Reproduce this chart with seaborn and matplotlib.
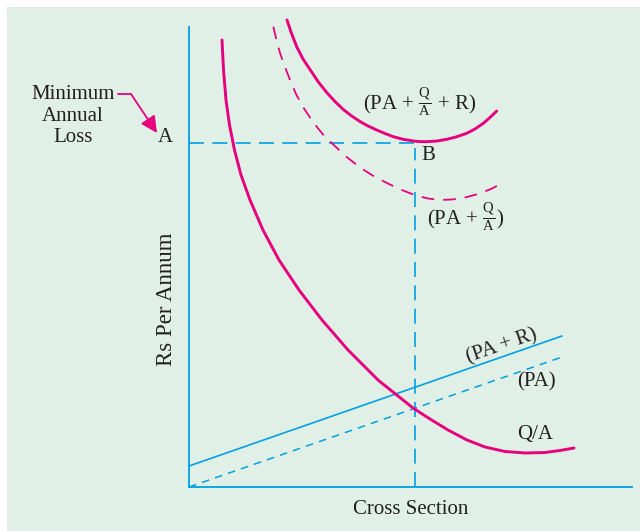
import numpy as np
import pandas as pd
import matplotlib
matplotlib.use("Agg")
import matplotlib.pyplot as plt
from matplotlib.patches import Rectangle
from matplotlib.lines import Line2D
import seaborn as sns

# curve points (x = cross section, y = Rs per annum)
qa_x = [33, 34.5, 37, 40.5, 45.5, 52, 61, 74, 90, 110, 133, 159, 189, 224,
        241, 259, 278, 296, 316, 336, 356, 371, 385]
qa_y = [447, 417, 387, 362, 337, 312, 287, 257, 227, 197, 167, 137, 107, 79,
        68, 57, 47, 40, 35.5, 34, 34.5, 36.5, 39]

total_x = [98, 102, 107.7, 114, 121, 129, 137.7, 146, 154.3, 162, 171, 179, 187.7,
           196, 204.3, 214, 224.3, 231, 237.7, 248, 257.7, 267, 277.7, 286, 294.3,
           301, 307.7]
total_y = [467, 455, 440.3, 428, 417.5, 405.5, 394.5, 385.5, 377.5, 371.5, 365.5,
           361, 357, 353.5, 350.3, 347.7, 346, 345.4, 345.3, 346, 347.7, 350,
           353.7, 358, 363.7, 369.5, 376]

paqa_x = [84.3, 87.5, 91, 96, 101, 107, 114, 121, 127.7, 134, 141, 157.7, 171,
          186, 201, 214, 227, 239, 251, 263, 276, 289, 302, 314]
paqa_y = [460.3, 447, 434, 420, 407, 393, 380, 369.5, 360.3, 352.5, 345.5, 330,
          319.5, 310, 302.5, 296.5, 291.5, 288.5, 287, 287.5, 289.5, 293, 298, 304.3]

par_x = [0, 373]
par_y = [21, 151]
pa_x = [0, 373]
pa_y = [0, 130]

opt_x = 226      # cross section at B
min_loss = 344   # minimum annual loss (A)

pink = "#e6007e"
blue = "#00a0e3"
green_bg = "#e1f0e6"

sns.set_style("white")
plt.rcParams["font.family"] = ["Liberation Serif", "DejaVu Serif"]
plt.rcParams["mathtext.fontset"] = "custom"
plt.rcParams["mathtext.rm"] = "Liberation Serif"
plt.rcParams["mathtext.it"] = "Liberation Serif:italic"

W, H = 640, 531
fig = plt.figure(figsize=(6.4, 5.31), dpi=100, facecolor="white")
fig.patches.append(Rectangle((7 / W, 0), 1, 524 / H, transform=fig.transFigure,
                             facecolor=green_bg, edgecolor="none", zorder=-10))

ax = fig.add_axes([189 / W, 44 / H, 451 / W, 487 / H])
ax.set_facecolor("none")
ax.set_xlim(0, 451)
ax.set_ylim(0, 487)
for s in ["top", "right"]:
    ax.spines[s].set_visible(False)
for s in ["left", "bottom"]:
    ax.spines[s].set_color(blue)
    ax.spines[s].set_linewidth(1.3)
ax.spines["left"].set_bounds(0, 460)
ax.spines["bottom"].set_bounds(0, 443)
ax.set_xticks([])
ax.set_yticks([])


def draw(x, y, color, lw, dash=None):
    sns.lineplot(x=x, y=y, ax=ax, color=color, lw=lw, sort=False,
                 estimator=None, clip_on=False)
    line = ax.lines[-1]
    line.set_solid_joinstyle("round")
    line.set_dash_joinstyle("round")
    if dash is not None:
        line.set_linestyle((0, dash))
    return line


# guide lines for A and B
draw([0, opt_x], [min_loss, min_loss], blue, 1.2, (9, 5))
draw([opt_x, opt_x], [0, min_loss - 5], blue, 1.2, (9, 5))

draw(pa_x, pa_y, blue, 1.1, (5, 4))
draw(par_x, par_y, blue, 1.2)
draw(paqa_x, paqa_y, pink, 1.3, (7, 5))
draw(qa_x, qa_y, pink, 2.1)
draw(total_x, total_y, pink, 2.1)

fs = 15
def ftext(px, py, s, **kw):
    kw.setdefault("fontsize", fs)
    fig.text(px / W, 1 - py / H, s, ha="center", va="center", color="#231f20", **kw)


ftext(73, 116, "Minimum\nAnnual\nLoss", linespacing=1.15, multialignment="center")
ftext(165, 138, "A")
ftext(428, 156, "B")
ftext(420, 102, r"(PA + $\frac{\mathrm{Q}}{\mathrm{A}}$ + R)")
ftext(466, 217, r"(PA + $\frac{\mathrm{Q}}{\mathrm{A}}$)")
ftext(502, 346, "(PA + R)", rotation=19)
ftext(536, 382, "(PA)")
ftext(535, 434, "Q/A")
ftext(167, 299, "Rs Per Annum", rotation=90, fontsize=16.5)
ftext(411, 510, "Cross Section")

# pointer from the label to A
fig.add_artist(Line2D([118 / W, 131 / W], [1 - 94 / H, 1 - 94 / H],
                      transform=fig.transFigure, color=pink, lw=1.3))
ax.annotate("", xy=(157, H - 133), xycoords="figure pixels",
            xytext=(131, H - 94), textcoords="figure pixels",
            arrowprops=dict(arrowstyle="-|>,head_length=1.0,head_width=0.5",
                            color=pink, lw=1.3, shrinkA=0, shrinkB=0))

fig.savefig("out.png", dpi=100, facecolor="white")
